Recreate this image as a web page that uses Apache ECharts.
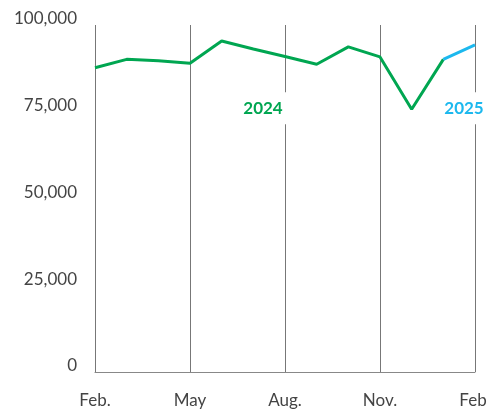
<!DOCTYPE html>
<html>
<head>
<meta charset="utf-8">
<script src="https://cdn.jsdelivr.net/npm/echarts@6/dist/echarts.min.js"></script>
<style>
html, body { margin: 0; padding: 0; background: #fff; }
#chart { width: 487px; height: 409px; }
</style>
</head>
<body>
<div id="chart"></div>
<script>
// months, Feb 2024 .. Feb 2025
var months = ['Feb.', 'Mar.', 'Apr.', 'May', 'Jun.', 'Jul.', 'Aug.', 'Sep.', 'Oct.', 'Nov.', 'Dec.', 'Jan.', 'Feb.'];
var values2024 = [87700, 90100, 89700, 89000, 95400, 93100, 90900, 88700, 93700, 90800, 75700, 90100, null];
var values2025 = [null, null, null, null, null, null, null, null, null, null, null, 90100, 94300];
var yTicks = [0, 25000, 50000, 75000, 100000];

var green = '#00a651';
var blue = '#1cb8ee';
var font = 'Lato';

var myChart = echarts.init(document.getElementById('chart'));

// year tag with white box that breaks the grid line behind it
function yearLabel(text, color, idx, val, dx) {
	return {
		symbol: 'circle',
		symbolSize: 1,
		itemStyle: { color: 'rgba(0,0,0,0)' },
		silent: true,
		data: [{ coord: [idx, val] }],
		label: {
			show: true,
			formatter: text,
			position: 'inside',
			offset: [dx, 0],
			color: color,
			fontSize: 17,
			lineHeight: 17,
			fontFamily: font,
			fontWeight: 'bold',
			backgroundColor: '#fff',
			padding: [8, 5, 7, 5]
		}
	};
}

var option = {
	animation: false,
	grid: { left: 95, right: 12, top: 25, bottom: 37, outerBoundsMode: 'none' },
	xAxis: {
		type: 'category',
		data: months,
		boundaryGap: false,
		axisLine: { lineStyle: { color: '#888', width: 1 } },
		axisTick: { show: false },
		axisLabel: {
			interval: 2,
			margin: 20,
			color: '#444',
			fontSize: 17,
			fontFamily: font
		},
		splitLine: { show: true, interval: 2, lineStyle: { color: '#777', width: 1 } }
	},
	yAxis: {
		type: 'value',
		min: yTicks[0],
		max: yTicks[yTicks.length - 1],
		interval: 25000,
		axisLine: { show: false },
		axisTick: { show: false },
		splitLine: { show: false },
		axisLabel: {
			margin: 18,
			color: '#444',
			fontSize: 17,
			fontFamily: font,
			verticalAlign: 'bottom',
			lineHeight: 12,
			formatter: function (v) { return v.toLocaleString('en-US'); }
		}
	},
	series: [
		{
			type: 'line',
			data: values2024,
			symbol: 'none',
			lineStyle: { color: green, width: 3 },
			itemStyle: { color: green },
			markPoint: yearLabel('2024', green, 6, 76000, -22)
		},
		{
			type: 'line',
			data: values2025,
			symbol: 'none',
			lineStyle: { color: blue, width: 3 },
			itemStyle: { color: blue },
			markPoint: yearLabel('2025', blue, 12, 76000, -11)
		}
	]
};

myChart.setOption(option);
</script>
</body>
</html>
